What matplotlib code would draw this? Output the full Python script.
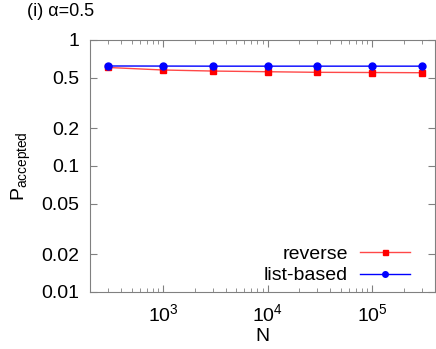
import matplotlib
matplotlib.use('Agg')
import matplotlib.pyplot as plt
from matplotlib.ticker import FixedLocator, NullFormatter, LogLocator

plt.rcParams['font.family'] = ['Liberation Sans', 'DejaVu Sans']
plt.rcParams['mathtext.fontset'] = 'custom'
plt.rcParams['mathtext.rm'] = 'Liberation Sans'
plt.rcParams['mathtext.it'] = 'Liberation Sans'

# data
N = [300, 1000, 3000, 10000, 30000, 100000, 300000]
reverse = [0.605, 0.578, 0.567, 0.560, 0.554, 0.552, 0.550]
listbased = [0.622, 0.621, 0.620, 0.620, 0.620, 0.620, 0.620]
yticks = [0.01, 0.02, 0.05, 0.1, 0.2, 0.5, 1]
ylabels = ['0.01', '0.02', '0.05', '0.1', '0.2', '0.5', '1']

fs = 14
fig = plt.figure(figsize=(4.36, 3.49), dpi=100)
ax = fig.add_axes([90/436, 1 - 292/349, (435-90)/436, (292-40)/349])

ax.plot(N, reverse, color='#ff4848', lw=1, marker='s', ms=4.5,
        mfc='red', mec='red', label='reverse')
ax.plot(N, listbased, color='blue', lw=1, marker='o', ms=5,
        mfc='blue', mec='blue', label='list-based')

ax.set_xscale('log')
ax.set_yscale('log')
ax.set_xlim(200, 4e5)
ax.set_ylim(0.01, 1)
ax.set_xticks([1e3, 1e4, 1e5])
ax.set_xticklabels(['$10^3$', '$10^4$', '$10^5$'])
ax.xaxis.set_minor_locator(LogLocator(base=10, subs=range(2, 10)))
ax.xaxis.set_minor_formatter(NullFormatter())
ax.yaxis.set_major_locator(FixedLocator(yticks))
ax.set_yticklabels(ylabels)
ax.yaxis.set_minor_locator(FixedLocator([]))

ax.tick_params(which='both', direction='in', top=True, right=True,
               labelsize=fs, color='#808080')
ax.tick_params(which='major', length=5, pad=8)
ax.tick_params(which='minor', length=3)
for s in ax.spines.values():
    s.set_color('#808080')

ax.set_xlabel('N', fontsize=fs, labelpad=2)
ax.set_ylabel('P$_{\\mathrm{accepted}}$', fontsize=fs, labelpad=6)
fig.text(27/436, 1 - 12/349, '(i) α=0.5', fontsize=13, va='center', ha='left')

ax.legend(loc='lower right', frameon=False, markerfirst=False, fontsize=fs,
          handlelength=2.6, borderaxespad=0.3, labelspacing=0.2,
          markerscale=0.8, handletextpad=0.6,
          bbox_to_anchor=(1 - 11/345, -6/252))

fig.savefig('out.png', dpi=100)
